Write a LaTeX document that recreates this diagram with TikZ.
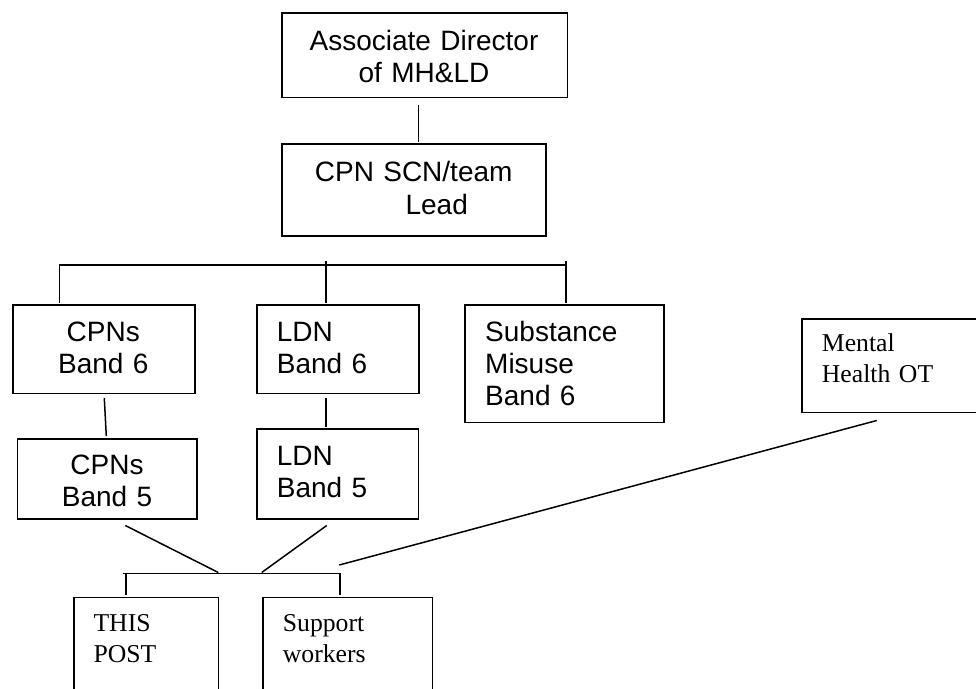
\documentclass[tikz,border=0pt]{standalone}
\usepackage{fontspec}
\setmainfont{Liberation Sans}
\newfontfamily\serifface{Liberation Serif}
\usetikzlibrary{calc}
\tikzset{
  box/.style={draw=black, line width=1.5pt, rectangle, inner sep=0pt, anchor=north west},
  sanstxt/.style={inner sep=0pt, text width=300pt, font=\fontsize{28}{32.4}\selectfont},
  seriftxt/.style={inner sep=0pt, text width=200pt, font=\serifface\fontsize{25.7}{30.5}\selectfont},
  conn/.style={draw=black, line width=1.5pt}
}
\begin{document}
\begin{tikzpicture}[x=1pt, y=-1pt]
\useasboundingbox (0,0) rectangle (976,688);
\fill[white] (0,0) rectangle (976,688);
\clip (0,0) rectangle (976,688);

% boxes
\node[box, minimum width=285.4pt, minimum height=84.7pt] (assoc) at (281.3,12) {};
\node[box, minimum width=263.7pt, minimum height=92pt]   (scn)   at (281.3,143.3) {};
\node[box, minimum width=182pt,   minimum height=88.4pt] (cpn6)  at (12.3,304.3) {};
\node[box, minimum width=162.3pt, minimum height=88.4pt] (ldn6)  at (256,304.3) {};
\node[box, minimum width=199pt,   minimum height=117.4pt] (subst) at (464.3,304.3) {};
\node[box, minimum width=189pt,   minimum height=93.2pt] (mhot)  at (801,318.3) {};
\node[box, minimum width=179.3pt, minimum height=80pt]   (cpn5)  at (16.7,438.3) {};
\node[box, minimum width=161.7pt, minimum height=90pt]   (ldn5)  at (256,428.3) {};
\node[box, minimum width=144.4pt, minimum height=110pt]  (post)  at (73.3,596.7) {};
\node[box, minimum width=169.4pt, minimum height=110pt]  (supp)  at (262.3,596.7) {};

% texts
\node[sanstxt, align=center, anchor=base] (tassoc) at (424,50) {Associate Director\\of MH\&LD};
\node[sanstxt, align=center, anchor=base] (tscn) at (413.7,181.7) {CPN SCN/team\\\hspace*{46pt}Lead};
\node[sanstxt, align=center, anchor=base] (tcpn6) at (103.3,341) {CPNs\\Band 6};
\node[sanstxt, align=left, anchor=base west] (tldn6) at (276.7,341) {LDN\\Band 6};
\node[sanstxt, align=left, anchor=base west] (tsubst) at (485,341) {Substance\\Misuse\\Band 6};
\node[seriftxt, align=left, anchor=base west, font=\serifface\fontsize{25.7}{31}\selectfont] (tmhot) at (821.7,351.7) {Mental\\Health OT};
\node[sanstxt, align=center, anchor=base] (tcpn5) at (107,474) {CPNs\\Band 5};
\node[sanstxt, align=left, anchor=base west] (tldn5) at (276.7,465) {LDN\\Band 5};
\node[seriftxt, align=left, anchor=base west] (tpost) at (93.3,631.7) {THIS\\POST};
\node[seriftxt, align=left, anchor=base west] (tsupp) at (282.7,631.7) {Support\\workers};

% connectors
\draw[conn] ($(assoc.south)+(-6.5,6.3)$) -- ($(scn.north)+(4.35,-1.3)$);

\draw[conn] ($(cpn6.north west)+(47,-1.6)$) |- ($(subst.north west)+(101.7,-39.3)$);
\draw[conn] ($(subst.north west)+(101.7,-43.3)$) -- ($(subst.north west)+(101.7,-1.6)$);
\draw[conn] ($(ldn6.north west)+(70,-43.6)$) -- ($(ldn6.north west)+(70,-1.6)$);

\draw[conn] ($(cpn6.south west)+(92,4)$) -- ($(cpn5.north west)+(89.6,-2.3)$);
\draw[conn] ($(ldn6.south west)+(70,4)$) -- ($(ldn5.north west)+(70,-1.6)$);

\coordinate (bbL) at ($(post.north west)+(49.4,-23.4)$);
\coordinate (bbR) at ($(supp.north west)+(77.7,-23.4)$);
\coordinate (bbA) at ($(bbL)+(95.6,-0.8)$);
\coordinate (bbB) at ($(bbL)+(139,-0.8)$);
\coordinate (bbC) at ($(bbR)+(-0.7,-8.3)$);

\draw[conn] (bbL) -- (bbR) -- ($(supp.north west)+(77.7,-1.6)$);
\draw[conn] ($(bbL)+(3.3,0)$) -- ($(post.north west)+(52.7,-1.6)$);

\draw[conn] ($(cpn5.south west)+(108.6,5.7)$) -- (bbA);
\draw[conn] ($(ldn5.south west)+(70.7,5.7)$) -- (bbB);
\draw[conn] ($(mhot.south west)+(75.7,7.5)$) -- (bbC);
\end{tikzpicture}
\end{document}
